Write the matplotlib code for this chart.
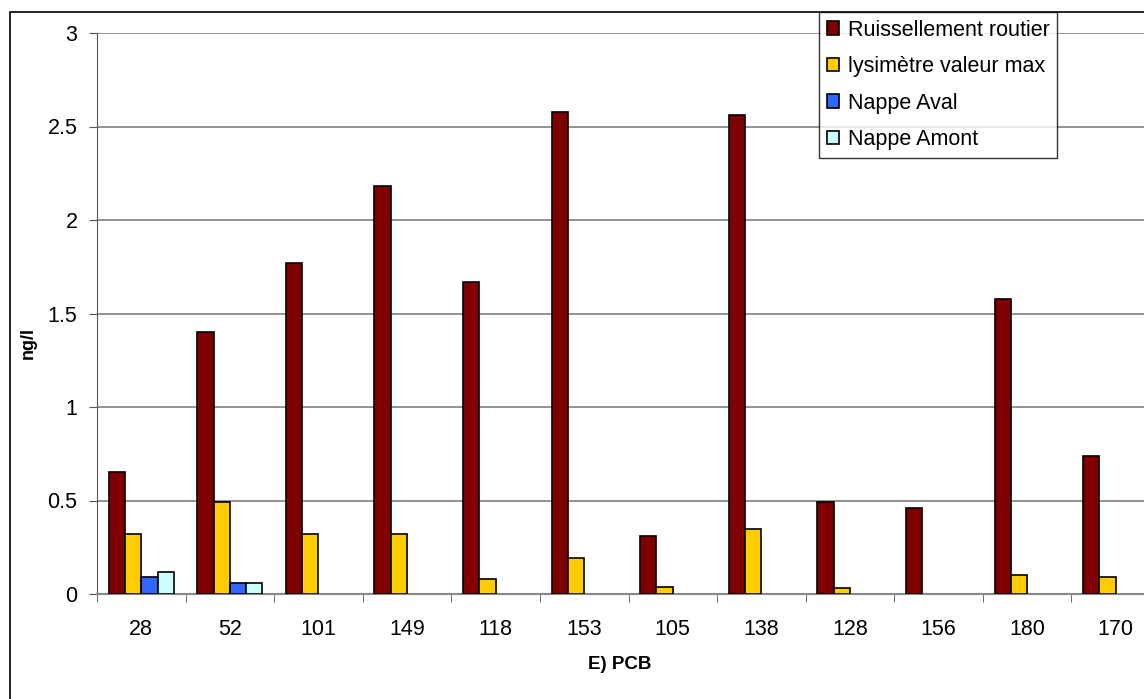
import matplotlib.pyplot as plt
import matplotlib.patches as patches
import numpy as np

plt.rcParams['font.family'] = ['Liberation Sans', 'DejaVu Sans']

# PCB congeners and measured concentrations (ng/l); None = no bar
categories = ['28', '52', '101', '149', '118', '153', '105', '138', '128', '156', '180', '170']
ruissellement = [0.65, 1.40, 1.77, 2.18, 1.67, 2.58, 0.31, 2.56, 0.49, 0.46, 1.58, 0.74]
lysimetre = [0.32, 0.49, 0.32, 0.32, 0.08, 0.19, 0.04, 0.35, 0.03, None, 0.10, 0.09]
nappe_aval = [0.09, 0.06, None, None, None, None, None, None, None, None, None, None]
nappe_amont = [0.12, 0.06, None, None, None, None, None, None, None, None, None, None]

series = [
    ('Ruissellement routier', ruissellement, '#800000'),
    ('lysimètre valeur max', lysimetre, '#FFCC00'),
    ('Nappe Aval', nappe_aval, '#3366FF'),
    ('Nappe Amont', nappe_amont, '#CCFFFF'),
]

W, H = 1144, 699
fig = plt.figure(figsize=(W / 100, H / 100), dpi=100)

# outer chart-area frame (cut off on the right and bottom like the original)
fig.patches.append(patches.Rectangle((10 / W, -0.1), 1.2, 1 - 12 / H + 0.1,
                                     transform=fig.transFigure, fill=False,
                                     edgecolor='black', linewidth=1.2))

ax = fig.add_axes([97 / W, (H - 594) / H, 1063 / W, (594 - 33) / H])

x = np.arange(len(categories))
bw = 0.184
for i, (name, vals, col) in enumerate(series):
    v = np.array([np.nan if a is None else a for a in vals], dtype=float)
    ax.bar(x + (i - 1.5) * bw, v, bw, color=col, edgecolor='black',
           linewidth=1.2, label=name, zorder=3)

ax.set_xlim(-0.5, len(categories) - 0.5)
ax.set_ylim(0, 3)
ax.set_yticks([0, 0.5, 1, 1.5, 2, 2.5, 3])
ax.set_yticklabels(['0', '0.5', '1', '1.5', '2', '2.5', '3'])
ax.set_xticks(x)
ax.set_xticklabels(categories)
ax.set_xticks(np.arange(len(categories) + 1) - 0.5, minor=True)
ax.tick_params(axis='x', which='major', length=0, pad=18, labelsize=15.5)
ax.tick_params(axis='x', which='minor', length=6, color='#555555')
ax.tick_params(axis='y', length=6, color='#555555', labelsize=15.5, pad=8)
ax.yaxis.grid(True, color='#808080', linewidth=1.2, zorder=0)

for s in ['top', 'right']:
    ax.spines[s].set_visible(False)
ax.spines['left'].set_color('#555555')
ax.spines['bottom'].set_color('#888888')
ax.spines['bottom'].set_linewidth(1.5)

ax.set_xlabel('E) PCB', fontsize=13.5, fontweight='bold')
ax.set_ylabel('ng/l', fontsize=13, fontweight='bold')
ax.xaxis.set_label_coords((620 - 97) / 1063, -(656 - 594) / (594 - 33))
ax.yaxis.set_label_coords((37 - 97) / 1063, (594 - 343) / (594 - 33))

leg = fig.legend(loc='upper left', bbox_to_anchor=(819 / W, 1 - 12 / H),
                 fontsize=15.5, frameon=True, fancybox=False, handlelength=0.6,
                 handleheight=0.6, handletextpad=0.4, labelspacing=0.72,
                 borderpad=0.35, borderaxespad=0)
leg.get_frame().set_edgecolor('black')
leg.get_frame().set_linewidth(1.0)

fig.savefig('out.png', dpi=100)
